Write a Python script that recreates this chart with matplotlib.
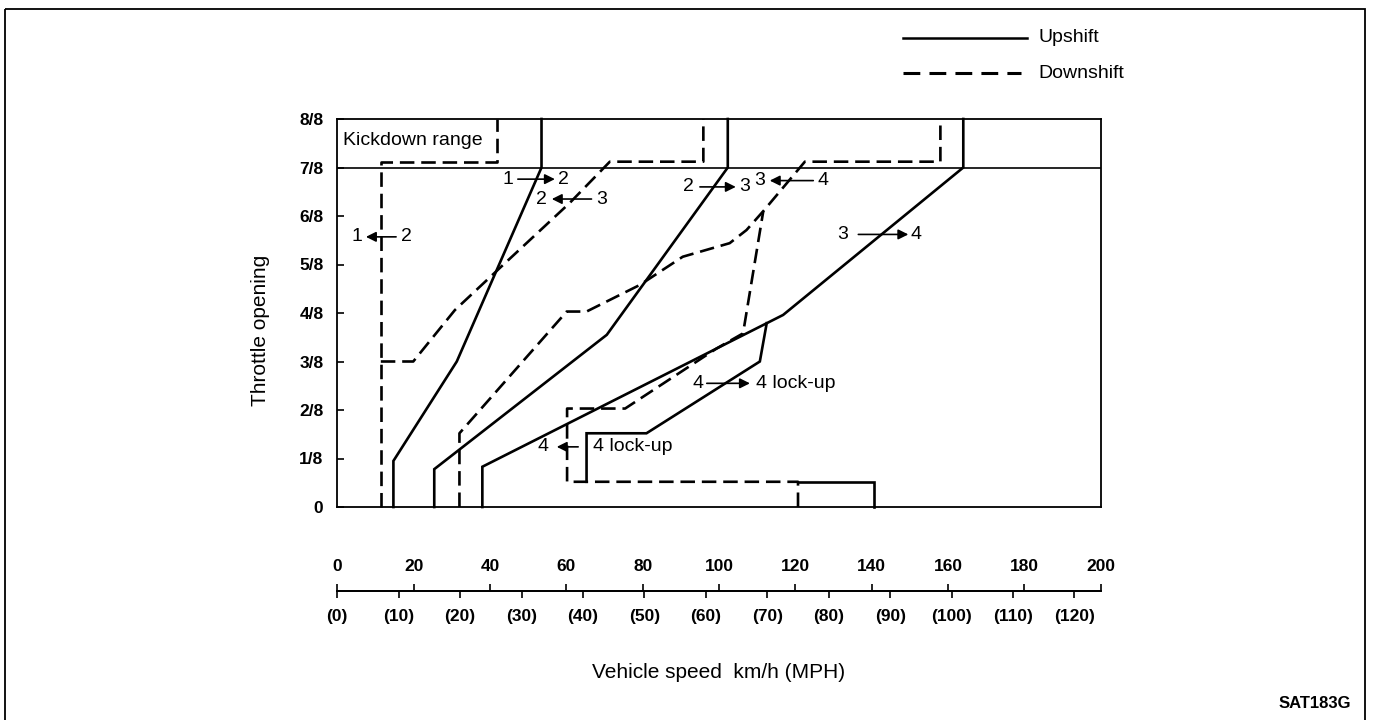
import numpy as np
import matplotlib.pyplot as plt
from matplotlib.patches import Rectangle

plt.rcParams['font.family'] = ['Liberation Sans', 'DejaVu Sans']

# shift schedule: vehicle speed (km/h) vs throttle opening (in eighths)
up12_speed = [14.7, 14.7, 31.3, 53.5, 53.5]
up12_throttle = [0, 0.95, 3.0, 7.0, 8.0]
up23_speed = [25.4, 25.4, 70.6, 102.3, 102.3]
up23_throttle = [0, 0.78, 3.55, 7.0, 8.0]
up34_speed = [38.0, 38.0, 116.8, 164.0, 164.0]
up34_throttle = [0, 0.83, 3.96, 7.0, 8.0]
lu_on_speed = [65.3, 65.3, 81.0, 110.7, 112.5]
lu_on_throttle = [0.52, 1.52, 1.52, 3.0, 3.79]
lu_on_low_speed = [120.7, 140.6, 140.6]
lu_on_low_throttle = [0.52, 0.52, 0]

dn21_speed = [11.4, 11.4, 41.8, 41.8]
dn21_throttle = [0, 7.12, 7.12, 8.0]
dn32_speed = [11.4, 19.9, 30.8, 42.6, 60.9, 71.4, 95.9, 95.9]
dn32_throttle = [3.0, 3.0, 4.06, 4.93, 6.27, 7.12, 7.12, 8.0]
dn43_speed = [32.0, 32.0, 60.1, 65.3, 79.3, 90.5, 102.8, 107.2, 111.6, 122.5, 158.0, 158.0]
dn43_throttle = [0, 1.52, 4.03, 4.03, 4.58, 5.16, 5.44, 5.71, 6.10, 7.12, 7.12, 8.0]
lu_off_speed = [120.7, 120.7, 60.2, 60.2, 75.4, 99.4, 106.3, 111.6]
lu_off_throttle = [0, 0.52, 0.52, 2.03, 2.03, 3.27, 3.58, 6.10]

throttle_ticks = [0, 1, 2, 3, 4, 5, 6, 7, 8]
throttle_labels = ['0', '1/8', '2/8', '3/8', '4/8', '5/8', '6/8', '7/8', '8/8']
kmh_ticks = [0, 20, 40, 60, 80, 100, 120, 140, 160, 180, 200]
mph_ticks = [0, 10, 20, 30, 40, 50, 60, 70, 80, 90, 100, 110, 120]

# shift annotations: left text, its x, arrow tail, arrow head, right text, its x, throttle
labels = [
    ('1', 44.7, 47.3, 57.0, '2', 59.2, 6.76, 'center'),
    ('2', 53.5, 66.6, 56.2, '3', 69.2, 6.35, 'center'),
    ('1', 5.2, 15.4, 7.5, '2', 18.2, 5.57, 'center'),
    ('2', 91.9, 95.0, 104.4, '3', 106.6, 6.60, 'center'),
    ('3', 110.7, 124.7, 113.3, '4', 127.3, 6.73, 'center'),
    ('3', 132.5, 136.5, 149.6, '4', 151.6, 5.62, 'center'),
    ('4', 94.6, 96.8, 108.1, '4 lock-up', 109.6, 2.55, 'left'),
    ('4', 54.0, 63.1, 57.5, '4 lock-up', 66.9, 1.24, 'left'),
]

W, H = 1378, 720
fig = plt.figure(figsize=(W / 100, H / 100), dpi=100)

left, right, top, bottom = 337.3, 1100.7, 119, 507
ax = fig.add_axes([left / W, (H - bottom) / H, (right - left) / W, (bottom - top) / H])
ax.set_xlim(0, 200)
ax.set_ylim(0, 8)

lw = 1.9
dash = (0, (5.5, 2.6))
for xs, ys in [(up12_speed, up12_throttle), (up23_speed, up23_throttle),
               (up34_speed, up34_throttle), (lu_on_speed, lu_on_throttle),
               (lu_on_low_speed, lu_on_low_throttle)]:
    ax.plot(xs, ys, color='black', lw=lw, solid_joinstyle='miter', clip_on=False)
for xs, ys in [(dn21_speed, dn21_throttle), (dn32_speed, dn32_throttle),
               (dn43_speed, dn43_throttle), (lu_off_speed, lu_off_throttle)]:
    ax.plot(xs, ys, color='black', lw=lw, linestyle=dash, clip_on=False)

ax.axhline(7, color='black', lw=1.2)

for sp in ax.spines.values():
    sp.set_linewidth(1.3)
ax.set_xticks([])
ax.set_yticks(throttle_ticks, throttle_labels)
ax.tick_params(axis='y', direction='in', length=5, width=1.2, pad=10,
               labelsize=12.5)
for t in ax.get_yticklabels():
    t.set_fontweight('bold')

fs = 14
ax.text(1.5, 7.55, 'Kickdown range', fontsize=fs, va='center', ha='left')

for lt, lx, tail, head, rt, rx, y, ha in labels:
    ax.text(lx, y, lt, fontsize=fs, ha='center', va='center')
    ax.text(rx, y, rt, fontsize=fs, ha=ha, va='center')
    ax.annotate('', xy=(head, y), xytext=(tail, y),
                arrowprops=dict(arrowstyle='-|>', color='black', lw=1.2,
                                mutation_scale=15, shrinkA=0, shrinkB=0))

# speed scale below the chart
axis_y = 591
ax2 = fig.add_axes([left / W, (H - axis_y) / H, (right - left) / W, 0.0001])
ax2.set_xlim(0, 200)
ax2.set_yticks([])
ax2.patch.set_alpha(0)
for s in ['left', 'right', 'bottom']:
    ax2.spines[s].set_visible(False)
ax2.spines['top'].set_linewidth(1.3)
ax2.set_xticks(kmh_ticks, [str(k) for k in kmh_ticks])
ax2.tick_params(axis='x', bottom=False, labelbottom=False, top=True,
                labeltop=True, direction='out', length=5, width=1.2, pad=7,
                labelsize=12.5)
for t in ax2.get_xticklabels():
    t.set_fontweight('bold')

sec = ax2.secondary_xaxis('bottom', functions=(lambda k: k / 1.609344,
                                                lambda m: m * 1.609344))
sec.set_xticks(mph_ticks, ['(%d)' % m for m in mph_ticks])
sec.tick_params(axis='x', direction='out', length=5, width=1.2, pad=8,
                labelsize=12.5)
sec.spines['bottom'].set_linewidth(1.3)
for t in sec.get_xticklabels():
    t.set_fontweight('bold')

# overlay in pixel coordinates for frame, legend and captions
ov = fig.add_axes([0, 0, 1, 1])
ov.set_xlim(0, W)
ov.set_ylim(H, 0)
ov.axis('off')
ov.patch.set_alpha(0)
ov.add_patch(Rectangle((5, 9), 1360, H, fill=False, lw=1.3, ec='black'))
ov.plot([903, 1027], [38, 38], color='black', lw=1.8)
ov.plot([903, 1021], [73, 73], color='black', lw=2.2, linestyle=(0, (5.5, 3.0)))
ov.text(1038, 38, 'Upshift', fontsize=fs, va='center', ha='left')
ov.text(1038, 73, 'Downshift', fontsize=fs, va='center', ha='left')
ov.text(260, 330, 'Throttle opening', fontsize=15, rotation=90,
        va='center', ha='center')
ov.text(719, 672, 'Vehicle speed  km/h (MPH)', fontsize=15,
        va='center', ha='center')
ov.text(1351, 703, 'SAT183G', fontsize=12, fontweight='bold',
        va='center', ha='right')

fig.savefig('out.png', dpi=100)
